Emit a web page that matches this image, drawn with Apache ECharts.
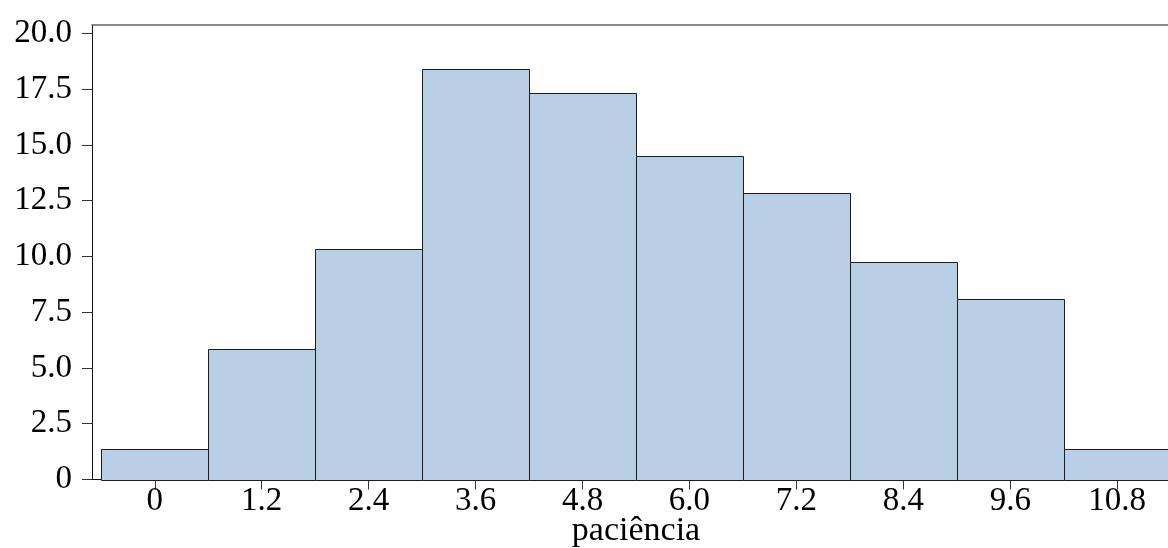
<!DOCTYPE html>
<html>
<head>
<meta charset="utf-8">
<title>paciência</title>
<script src="https://cdn.jsdelivr.net/npm/echarts@6/dist/echarts.min.js"></script>
<style>
  html, body { margin: 0; padding: 0; background: #ffffff; }
  #chart { width: 1168px; height: 548px; }
</style>
</head>
<body>
<div id="chart"></div>
<script>
// Histogram bins: centre of each bin and its height (percent)
const binCenters = [0, 1.2, 2.4, 3.6, 4.8, 6.0, 7.2, 8.4, 9.6, 10.8];
const binHeights = [1.35, 5.85, 10.32, 18.42, 17.32, 14.49, 12.83, 9.76, 8.10, 1.35];
const binWidth = 1.2;

// Axis ticks and their labels
const xTickValues = [0, 1.2, 2.4, 3.6, 4.8, 6.0, 7.2, 8.4, 9.6, 10.8];
const xTickLabels = ['0', '1.2', '2.4', '3.6', '4.8', '6.0', '7.2', '8.4', '9.6', '10.8'];
const yTickValues = [0, 2.5, 5, 7.5, 10, 12.5, 15, 17.5, 20];
const yTickLabels = ['0', '2.5', '5.0', '7.5', '10.0', '12.5', '15.0', '17.5', '20.0'];

const xAxisName = 'paciência';

function labelFor(values, labels, v) {
  let best = 0;
  for (let i = 1; i < values.length; i++) {
    if (Math.abs(values[i] - v) < Math.abs(values[best] - v)) best = i;
  }
  return labels[best];
}

const FONT = '"Liberation Serif", "Times New Roman", serif';
const chart = echarts.init(document.getElementById('chart'), null, { renderer: 'canvas' });

chart.setOption({
  animation: false,
  backgroundColor: '#ffffff',
  grid: {
    left: 92, right: -12, top: 25, bottom: 68.5,
    containLabel: false,
    outerBoundsMode: 'none'
  },
  xAxis: [
    {
      type: 'value',
      min: -0.705,
      max: 11.505,
      position: 'bottom',
      splitLine: { show: false },
      axisLine: { show: true, onZero: false, lineStyle: { color: '#111111', width: 1 } },
      axisTick: { show: true, length: 10, customValues: xTickValues, lineStyle: { color: '#333333' } },
      axisLabel: {
        customValues: xTickValues,
        margin: 5,
        color: '#000000',
        fontFamily: FONT,
        fontSize: 33,
        formatter: v => labelFor(xTickValues, xTickLabels, v)
      },
      name: xAxisName,
      nameLocation: 'middle',
      nameGap: 35,
      nameMoveOverlap: false,
      nameTextStyle: { color: '#000000', fontFamily: FONT, fontSize: 34 }
    },
    {
      type: 'value',
      min: -0.705,
      max: 11.505,
      position: 'top',
      splitLine: { show: false },
      axisLine: { show: true, onZero: false, lineStyle: { color: '#666666', width: 1.5 } },
      axisTick: { show: false },
      axisLabel: { show: false }
    }
  ],
  yAxis: {
    type: 'value',
    min: 0,
    max: 20.38,
    splitLine: { show: false },
    axisLine: { show: true, onZero: false, lineStyle: { color: '#111111', width: 1 } },
    axisTick: { show: true, length: 10, customValues: yTickValues, lineStyle: { color: '#333333' } },
    axisLabel: {
      customValues: yTickValues,
      margin: 20,
      color: '#000000',
      fontFamily: FONT,
      fontSize: 33,
      formatter: v => labelFor(yTickValues, yTickLabels, v)
    }
  },
  series: [{
    type: 'custom',
    xAxisIndex: 0,
    yAxisIndex: 0,
    clip: false,
    data: binCenters.map((c, i) => [c, binHeights[i]]),
    renderItem: function (params, api) {
      const c = api.value(0);
      const h = api.value(1);
      const topLeft = api.coord([c - binWidth / 2, h]);
      const bottomRight = api.coord([c + binWidth / 2, 0]);
      return {
        type: 'rect',
        shape: {
          x: Math.round(topLeft[0]) + 0.5,
          y: Math.round(topLeft[1]) + 0.5,
          width: Math.round(bottomRight[0]) - Math.round(topLeft[0]),
          height: Math.round(bottomRight[1]) - Math.round(topLeft[1])
        },
        style: { fill: '#b9cfe6', stroke: '#1e1e1e', lineWidth: 1 }
      };
    }
  }]
});
</script>
</body>
</html>
